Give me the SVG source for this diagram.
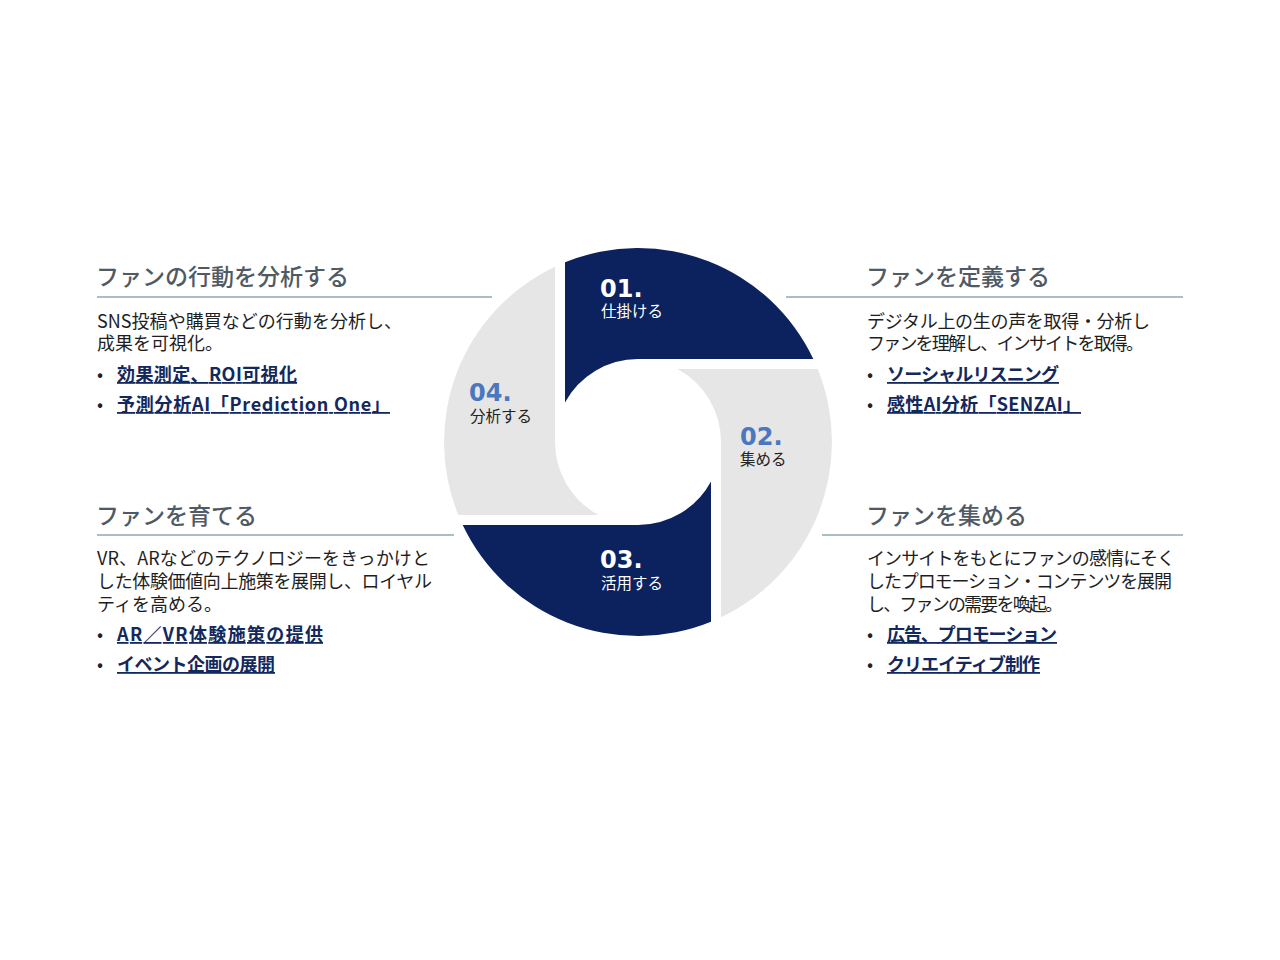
<svg xmlns="http://www.w3.org/2000/svg" width="1280" height="960" viewBox="0 0 1280 960">
<style>
.bg{fill:#ffffff}
.navy{fill:#0b225f}
.gray{fill:#e6e6e6}
.num{font-family:"DejaVu Sans","Noto Sans",sans-serif;font-weight:700;font-size:24px}
.numw{fill:#ffffff}
.numb{fill:#4a77bd}
.lab{font-family:"Noto Sans CJK JP",sans-serif;font-size:15.5px}
.labw{fill:#ffffff}
.labd{fill:#222222}
.head{font-family:"Noto Sans CJK JP",sans-serif;font-size:23px;font-weight:500;fill:#505a64}
.rule{stroke:#8fa9ad;stroke-width:1.3;fill:none}
.body{font-family:"Noto Sans CJK JP",sans-serif;font-size:18px;fill:#1e1e1e}
.dot{font-family:"Noto Sans CJK JP",sans-serif;font-size:18px;fill:#222222}
.link{font-family:"Noto Sans CJK JP",sans-serif;font-size:18px;font-weight:700;fill:#13285c;text-decoration:underline}
</style>
<rect class="bg" x="0" y="0" width="1280" height="960"/>

<g id="ring">
<g id="seg01">
<path class="navy" d="M565,262.3 A194,194 0 0 1 813.3,359 L638,359 A83,83 0 0 0 565,402.5 Z"/>
<text class="num numw" x="600" y="297">01.</text>
<text class="lab labw" x="601" y="317">仕掛ける</text>
</g>
<g id="seg02">
<path class="gray" d="M817.7,369 A194,194 0 0 1 721,617.3 L721,442 A83,83 0 0 0 677.5,369 Z"/>
<text class="num numb" x="740" y="445">02.</text>
<text class="lab labd" x="740" y="465">集める</text>
</g>
<g id="seg03">
<path class="navy" d="M711,621.7 A194,194 0 0 1 462.7,525 L638,525 A83,83 0 0 0 711,481.5 Z"/>
<text class="num numw" x="600" y="568">03.</text>
<text class="lab labw" x="601" y="589">活用する</text>
</g>
<g id="seg04">
<path class="gray" d="M458.3,515 A194,194 0 0 1 555,266.7 L555,442 A83,83 0 0 0 598.5,515 Z"/>
<text class="num numb" x="469" y="401">04.</text>
<text class="lab labd" x="470" y="422">分析する</text>
</g>
</g>

<g id="connectors">
<line class="rule" x1="97" y1="297" x2="492" y2="297"/>
<line class="rule" x1="786" y1="297" x2="1183" y2="297"/>
<line class="rule" x1="97" y1="535" x2="454" y2="535"/>
<line class="rule" x1="822" y1="535" x2="1183" y2="535"/>
</g>

<g id="block-analyze">
<text class="head" x="96" y="285">ファンの行動を分析する</text>
<text class="body" x="97" y="328" textLength="305" lengthAdjust="spacing">SNS投稿や購買などの行動を分析し、</text>
<text class="body" x="97" y="350">成果を可視化。</text>
<text class="dot" x="97" y="381">•</text>
<text class="link" x="117" y="381" textLength="180" lengthAdjust="spacing">効果測定、ROI可視化</text>
<text class="dot" x="97" y="411">•</text>
<text class="link" x="117" y="411" textLength="273" lengthAdjust="spacing">予測分析AI「Prediction One」</text>
</g>

<g id="block-define">
<text class="head" x="866" y="285">ファンを定義する</text>
<text class="body" x="867" y="328" textLength="283" lengthAdjust="spacing">デジタル上の生の声を取得・分析し</text>
<text class="body" x="867" y="350" textLength="277" lengthAdjust="spacing">ファンを理解し、インサイトを取得。</text>
<text class="dot" x="867" y="381">•</text>
<text class="link" x="887" y="381" textLength="172" lengthAdjust="spacing">ソーシャルリスニング</text>
<text class="dot" x="867" y="411">•</text>
<text class="link" x="887" y="411" textLength="194" lengthAdjust="spacing">感性AI分析「SENZAI」</text>
</g>

<g id="block-grow">
<text class="head" x="96" y="524">ファンを育てる</text>
<text class="body" x="97" y="565" textLength="333" lengthAdjust="spacing">VR、ARなどのテクノロジーをきっかけと</text>
<text class="body" x="97" y="588" textLength="335" lengthAdjust="spacing">した体験価値向上施策を展開し、ロイヤル</text>
<text class="body" x="97" y="611">ティを高める。</text>
<text class="dot" x="97" y="641">•</text>
<text class="link" x="117" y="641" textLength="206" lengthAdjust="spacing">AR／VR体験施策の提供</text>
<text class="dot" x="97" y="671">•</text>
<text class="link" x="117" y="671" textLength="158" lengthAdjust="spacing">イベント企画の展開</text>
</g>

<g id="block-gather">
<text class="head" x="866" y="524">ファンを集める</text>
<text class="body" x="867" y="565" textLength="308" lengthAdjust="spacing">インサイトをもとにファンの感情にそく</text>
<text class="body" x="867" y="588" textLength="305" lengthAdjust="spacing">したプロモーション・コンテンツを展開</text>
<text class="body" x="867" y="611" textLength="196" lengthAdjust="spacing">し、ファンの需要を喚起。</text>
<text class="dot" x="867" y="641">•</text>
<text class="link" x="887" y="641" textLength="170" lengthAdjust="spacing">広告、プロモーション</text>
<text class="dot" x="867" y="671">•</text>
<text class="link" x="887" y="671" textLength="153" lengthAdjust="spacing">クリエイティブ制作</text>
</g>
</svg>
